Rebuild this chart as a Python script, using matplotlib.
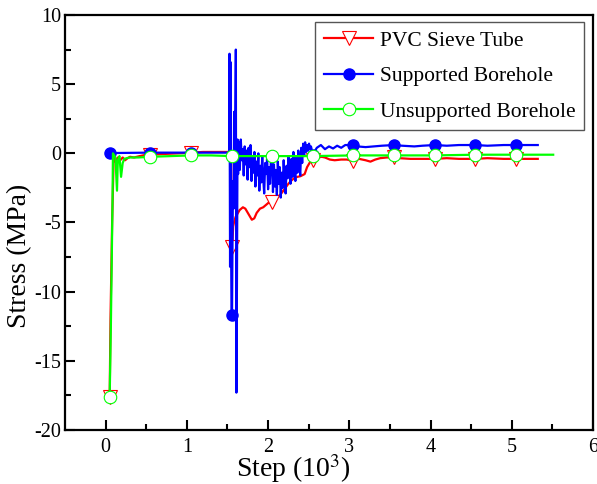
import numpy as np
import matplotlib
matplotlib.use("Agg")
import matplotlib.pyplot as plt

plt.rcParams["font.family"] = ["Liberation Serif", "DejaVu Serif"]
plt.rcParams["mathtext.fontset"] = "stix"
plt.rcParams["axes.unicode_minus"] = False

# step (10^3) and stress (MPa)
pvc_step = [0.05, 0.06, 0.08, 0.10, 0.12, 0.15, 0.18, 0.21, 0.24, 0.27, 0.30, 0.35,
            0.42, 0.50, 0.55, 0.70, 0.90, 1.05, 1.20, 1.40, 1.52, 1.545, 1.55, 1.555,
            1.56, 1.57, 1.58, 1.60, 1.63, 1.65, 1.69, 1.72, 1.76, 1.80, 1.83, 1.86,
            1.90, 1.94, 1.98, 2.02, 2.05, 2.10, 2.15, 2.20, 2.25, 2.28, 2.32, 2.36,
            2.40, 2.45, 2.48, 2.52, 2.55, 2.58, 2.62, 2.66, 2.70, 2.76, 2.82, 2.90,
            2.97, 3.05, 3.12, 3.20, 3.26, 3.32, 3.38, 3.46, 3.55, 3.62, 3.75, 3.87,
            4.00, 4.05, 4.20, 4.35, 4.55, 4.70, 4.90, 5.05, 5.20, 5.32]
pvc_stress = [-17.6, -12.0, -5.0, 0.0, -0.6, -0.3, -0.5, -0.3, -0.5, -0.35, -0.25, -0.3,
              -0.2, -0.1, -0.1, -0.05, 0.0, 0.05, 0.1, 0.1, 0.1, 0.0, -6.8, -6.9,
              -6.5, -5.3, -5.0, -4.6, -4.3, -4.1, -3.9, -4.0, -4.4, -4.8, -4.7, -4.3,
              -4.0, -3.9, -3.7, -3.5, -3.5, -3.2, -3.0, -2.6, -2.2, -2.0, -1.8, -1.7,
              -1.65, -1.5, -1.0, -0.6, -0.5, -0.4, -0.3, -0.25, -0.3, -0.45, -0.5, -0.45,
              -0.45, -0.55, -0.4, -0.5, -0.6, -0.45, -0.35, -0.3, -0.3, -0.35, -0.4, -0.4,
              -0.4, -0.4, -0.35, -0.4, -0.4, -0.35, -0.4, -0.4, -0.4, -0.4]

supported_step = [0.05, 0.55, 1.05, 1.52, 1.525, 1.532, 1.538, 1.544, 1.55, 1.556,
                  1.562, 1.568, 1.575, 1.582, 1.589, 1.596, 1.603, 1.610, 1.617, 1.624,
                  1.631, 1.640, 1.652, 1.664, 1.676, 1.688, 1.700, 1.712, 1.724, 1.736,
                  1.748, 1.760, 1.772, 1.784, 1.796, 1.808, 1.820, 1.832, 1.844, 1.856,
                  1.868, 1.880, 1.892, 1.904, 1.916, 1.928, 1.940, 1.952, 1.964, 1.976,
                  1.988, 2.000, 2.012, 2.024, 2.036, 2.050, 2.060, 2.072, 2.084, 2.096,
                  2.108, 2.120, 2.132, 2.144, 2.156, 2.168, 2.180, 2.192, 2.204, 2.216,
                  2.228, 2.240, 2.252, 2.264, 2.276, 2.288, 2.300, 2.312, 2.324, 2.336,
                  2.348, 2.360, 2.372, 2.384, 2.396, 2.408, 2.420, 2.432, 2.444, 2.456,
                  2.468, 2.480, 2.492, 2.504, 2.516, 2.528, 2.540, 2.550, 2.60, 2.65,
                  2.70, 2.75, 2.80, 2.85, 2.90, 2.95, 3.05, 3.10, 3.20, 3.30, 3.40,
                  3.55, 3.65, 3.80, 3.90, 4.05, 4.20, 4.35, 4.55, 4.70, 4.90, 5.05,
                  5.20, 5.32]
supported_stress = [0.02, 0.05, 0.05, 0.05, 7.2, -8.2, 6.6, -6.0, -11.7, -11.7,
                    -6.5, -2.0, -4.0, 3.0, -2.0, 1.5, 7.5, -17.3, -9.0, 1.0,
                    -1.5, 0.8, -1.2, 1.0, -0.5, 0.3, -1.6, 0.5, -0.8, 0.2,
                    -1.9, 0.4, -1.0, 0.6, -2.0, -0.3, -1.4, 0.1, -2.4, -0.6,
                    -1.6, 0.0, -2.7, -0.9, -2.1, -0.2, -1.8, -2.9, -0.7, -1.5,
                    -0.3, -2.6, -1.0, -2.2, -0.4, -0.2, -2.8, -0.8, -2.4, -1.2,
                    -3.0, -0.6, -2.2, -1.0, -3.2, -1.4, -2.5, -0.5, -2.0, -2.9,
                    -0.9, -1.8, -0.2, -1.5, -2.2, -0.4, -1.7, 0.1, -1.2, -2.0,
                    -0.3, -1.4, 0.2, -0.9, -1.6, 0.4, -0.7, 0.7, -0.2, 0.8,
                    0.1, 0.6, 0.2, 0.7, 0.3, 0.5, 0.2, -0.1, 0.4, 0.6,
                    0.3, 0.5, 0.35, 0.55, 0.4, 0.6, 0.6, 0.5, 0.45, 0.5, 0.55,
                    0.6, 0.55, 0.5, 0.55, 0.6, 0.55, 0.6, 0.6, 0.55, 0.6, 0.6,
                    0.6, 0.6]

unsupported_step = [0.05, 0.065, 0.085, 0.09, 0.10, 0.12, 0.14, 0.15, 0.17, 0.19,
                    0.21, 0.23, 0.26, 0.30, 0.40, 0.55, 0.80, 1.05, 1.30, 1.55,
                    1.80, 2.05, 2.30, 2.55, 3.05, 3.55, 4.05, 4.55, 5.05, 5.51]
unsupported_stress = [-17.6, -12.3, -3.4, 0.0, -0.1, -0.3, -2.7, -0.5, -0.2, -1.7,
                      -0.7, -0.4, -0.35, -0.3, -0.3, -0.25, -0.2, -0.15, -0.15, -0.2,
                      -0.2, -0.2, -0.2, -0.2, -0.15, -0.15, -0.15, -0.1, -0.1, -0.1]

marker_steps = [0.05, 0.55, 1.05, 1.55, 2.05, 2.55, 3.05, 3.55, 4.05, 4.55, 5.05]


def marker_indices(steps):
    steps = np.asarray(steps)
    return [int(np.argmin(np.abs(steps - m))) for m in marker_steps if m <= steps[-1]]


fig = plt.figure(figsize=(5.97, 4.84), dpi=100)
ax = fig.add_axes([0.1089, 0.1116, 0.8844, 0.8574])

ax.plot(pvc_step, pvc_stress, color="#ff0000", lw=1.6, marker="v", ms=9.5,
        mfc="white", mec="#ff0000", mew=0.8,
        markevery=marker_indices(pvc_step), label="PVC Sieve Tube", zorder=2)
ax.plot(supported_step, supported_stress, color="#0000ff", lw=1.6, marker="o", ms=8,
        mfc="#0000ff", mec="#0000ff",
        markevery=marker_indices(supported_step), label="Supported Borehole", zorder=3)
ax.plot(unsupported_step, unsupported_stress, color="#00ff00", lw=1.6, marker="o", ms=9,
        mfc="white", mec="#00ff00", mew=0.8,
        markevery=marker_indices(unsupported_step), label="Unsupported Borehole", zorder=4)

ax.set_xlim(-0.5, 6)
ax.set_ylim(-20, 10)
ax.set_xticks(range(0, 7))
ax.set_xticks(np.arange(0.5, 6, 1.0), minor=True)
ax.set_yticks(range(-20, 11, 5))
ax.set_yticks(np.arange(-17.5, 10, 5.0), minor=True)

ax.tick_params(which="both", direction="in", top=False, right=False, labelsize=14.5, width=1.5)
ax.tick_params(which="major", length=7)
ax.tick_params(which="minor", length=4)
ax.tick_params(axis="x", which="major", pad=6)
ax.tick_params(axis="y", which="major", pad=3)
for spine in ax.spines.values():
    spine.set_linewidth(1.6)

ax.set_xlabel("Step (10$^{3}$)", fontsize=20)
ax.set_ylabel("Stress (MPa)", fontsize=20)
ax.xaxis.set_label_coords(0.432, -0.053)
ax.yaxis.set_label_coords(-0.062, 0.42)

leg = ax.legend(loc="upper right", bbox_to_anchor=(0.983, 0.983), borderaxespad=0,
                fontsize=15.5, fancybox=False, framealpha=1, edgecolor="#555555",
                handlelength=2.3, labelspacing=0.72, handletextpad=0.3, borderpad=0.4)
leg.get_frame().set_linewidth(1.0)

fig.savefig("out.png", dpi=100)
